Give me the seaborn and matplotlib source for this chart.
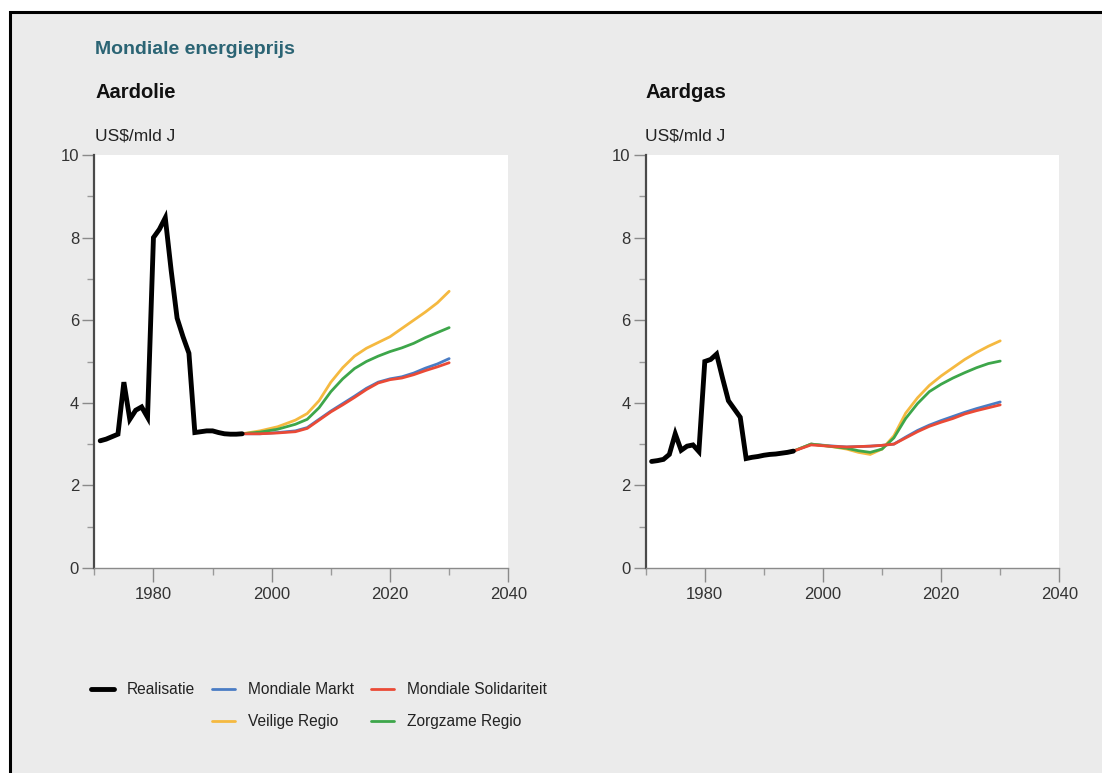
import numpy as np
import pandas as pd
import matplotlib
matplotlib.use('Agg')
import matplotlib.pyplot as plt
from matplotlib.patches import Rectangle
from matplotlib.lines import Line2D
from matplotlib.ticker import MultipleLocator, FixedLocator
import seaborn as sns

# Historische reeks (realisatie)
years_real = [1971, 1972, 1973, 1974, 1975, 1976, 1977, 1978, 1979, 1980,
              1981, 1982, 1983, 1984, 1985, 1986, 1987, 1988, 1989, 1990,
              1991, 1992, 1993, 1994, 1995]
oil_real = [3.08, 3.12, 3.18, 3.24, 4.50, 3.60, 3.82, 3.90, 3.65, 8.00,
            8.20, 8.48, 7.20, 6.05, 5.60, 5.20, 3.28, 3.30, 3.32, 3.32,
            3.28, 3.25, 3.24, 3.24, 3.25]
gas_real = [2.58, 2.60, 2.63, 2.75, 3.25, 2.85, 2.95, 2.98, 2.82, 5.00,
            5.05, 5.18, 4.60, 4.05, 3.85, 3.65, 2.65, 2.68, 2.70, 2.73,
            2.75, 2.76, 2.78, 2.80, 2.83]

# Scenario's
years_scen = [1995, 1998, 2001, 2004, 2006, 2008, 2010, 2012, 2014,
              2016, 2018, 2020, 2022, 2024, 2026, 2028, 2030]
oil_markt = [3.25, 3.25, 3.28, 3.32, 3.40, 3.60, 3.80, 3.98, 4.16,
             4.35, 4.50, 4.58, 4.63, 4.72, 4.84, 4.94, 5.07]
oil_veilig = [3.25, 3.32, 3.42, 3.58, 3.74, 4.05, 4.50, 4.85, 5.13,
              5.32, 5.46, 5.60, 5.80, 6.00, 6.20, 6.42, 6.70]
oil_zorg = [3.25, 3.29, 3.36, 3.48, 3.60, 3.88, 4.27, 4.58, 4.83,
            5.00, 5.13, 5.24, 5.33, 5.44, 5.58, 5.70, 5.82]
oil_solid = [3.25, 3.25, 3.27, 3.30, 3.38, 3.58, 3.78, 3.95, 4.13,
             4.32, 4.48, 4.56, 4.60, 4.68, 4.78, 4.87, 4.97]

gas_markt = [2.83, 3.00, 2.96, 2.93, 2.94, 2.95, 2.97, 3.00, 3.17,
             3.33, 3.46, 3.57, 3.67, 3.77, 3.86, 3.94, 4.02]
gas_veilig = [2.83, 3.00, 2.95, 2.88, 2.80, 2.75, 2.88, 3.20, 3.75,
              4.12, 4.42, 4.65, 4.85, 5.05, 5.22, 5.37, 5.50]
gas_zorg = [2.83, 3.00, 2.95, 2.90, 2.84, 2.80, 2.88, 3.15, 3.62,
            3.98, 4.27, 4.45, 4.60, 4.73, 4.85, 4.95, 5.01]
gas_solid = [2.83, 2.98, 2.95, 2.93, 2.94, 2.95, 2.97, 3.00, 3.15,
             3.30, 3.43, 3.53, 3.62, 3.73, 3.81, 3.88, 3.95]

series_order = ['Mondiale Markt', 'Veilige Regio', 'Zorgzame Regio',
                'Mondiale Solidariteit', 'Realisatie']
colors = {
    'Realisatie': '#000000',
    'Mondiale Markt': '#4a7cc4',
    'Mondiale Solidariteit': '#ea4a36',
    'Veilige Regio': '#f5b940',
    'Zorgzame Regio': '#3da64a',
}
widths = {k: (3.5 if k == 'Realisatie' else 2.0) for k in colors}


def build_frame(real, markt, veilig, zorg, solid):
    parts = [pd.DataFrame({'jaar': years_real, 'prijs': real, 'reeks': 'Realisatie'})]
    for name, vals in [('Mondiale Markt', markt), ('Veilige Regio', veilig),
                       ('Zorgzame Regio', zorg), ('Mondiale Solidariteit', solid)]:
        parts.append(pd.DataFrame({'jaar': years_scen, 'prijs': vals, 'reeks': name}))
    return pd.concat(parts, ignore_index=True)


df_oil = build_frame(oil_real, oil_markt, oil_veilig, oil_zorg, oil_solid)
df_gas = build_frame(gas_real, gas_markt, gas_veilig, gas_zorg, gas_solid)

sns.set_style('ticks')
plt.rcParams['font.family'] = ['Liberation Sans', 'DejaVu Sans']

W, H = 1102, 773
fig = plt.figure(figsize=(W / 100, H / 100), dpi=100)
fig.patch.set_facecolor('white')

# grijze achtergrond met zwarte rand links/boven
bg = Rectangle((10 / W, -0.1), 1.2, 1 - 12.5 / H + 0.1, transform=fig.transFigure,
               facecolor='#ebebeb', edgecolor='black', linewidth=2.2, zorder=-5)
fig.add_artist(bg)

ax1 = fig.add_axes([94.3 / W, 1 - 568 / H, 414 / W, 413 / H])
ax2 = fig.add_axes([645.7 / W, 1 - 568 / H, 413.6 / W, 413 / H])

for ax, df in [(ax1, df_oil), (ax2, df_gas)]:
    ax.set_facecolor('white')
    sns.lineplot(data=df, x='jaar', y='prijs', hue='reeks', size='reeks',
                 hue_order=series_order, size_order=series_order,
                 palette=colors, sizes=widths, legend=False, ax=ax,
                 estimator=None, sort=False)
    ax.set_xlim(1970, 2040)
    ax.set_ylim(0, 10)
    ax.set_xlabel('')
    ax.set_ylabel('')
    ax.xaxis.set_major_locator(FixedLocator([1980, 2000, 2020, 2040]))
    ax.xaxis.set_minor_locator(FixedLocator([1970, 1990, 2010, 2030]))
    ax.yaxis.set_major_locator(MultipleLocator(2))
    ax.yaxis.set_minor_locator(MultipleLocator(1))
    for side in ['top', 'right']:
        ax.spines[side].set_visible(False)
    ax.spines['left'].set_color('#4a4a4a')
    ax.spines['left'].set_linewidth(1.6)
    ax.spines['bottom'].set_color('#8a8a8a')
    ax.spines['bottom'].set_linewidth(1.0)
    ax.tick_params(axis='y', which='major', length=9, width=1.0, color='#8a8a8a',
                   labelsize=12, labelcolor='#333333', pad=2)
    ax.tick_params(axis='y', which='minor', length=5, width=1.0, color='#9a9a9a')
    ax.tick_params(axis='x', which='major', length=10, width=1.0, color='#8a8a8a',
                   labelsize=12, labelcolor='#333333', pad=4)
    ax.tick_params(axis='x', which='minor', length=5, width=1.0, color='#9a9a9a')
    for line in ax.get_lines():
        line.set_solid_joinstyle('miter')

# teksten
fig.text(95 / W, 1 - 50 / H, 'Mondiale energieprijs', fontsize=14, fontweight='bold',
         color='#2b6474', va='center', ha='left')
fig.text(95 / W, 1 - 93 / H, 'Aardolie', fontsize=14.5, fontweight='bold',
         color='#111111', va='center', ha='left')
fig.text(645 / W, 1 - 93 / H, 'Aardgas', fontsize=14.5, fontweight='bold',
         color='#111111', va='center', ha='left')
fig.text(95 / W, 1 - 136 / H, 'US$/mld J', fontsize=12.5, color='#222222',
         va='center', ha='left')
fig.text(645 / W, 1 - 136 / H, 'US$/mld J', fontsize=12.5, color='#222222',
         va='center', ha='left')

# legenda
handles = [
    Line2D([], [], color=colors['Realisatie'], lw=3.5),
    Line2D([], [], color='none', lw=0),
    Line2D([], [], color=colors['Mondiale Markt'], lw=2.0),
    Line2D([], [], color=colors['Veilige Regio'], lw=2.0),
    Line2D([], [], color=colors['Mondiale Solidariteit'], lw=2.0),
    Line2D([], [], color=colors['Zorgzame Regio'], lw=2.0),
]
labels = ['Realisatie', '', 'Mondiale Markt', 'Veilige Regio',
          'Mondiale Solidariteit', 'Zorgzame Regio']
leg = fig.legend(handles, labels, ncol=3, loc='upper left',
                 bbox_to_anchor=(91 / W, 1 - 682 / H), frameon=False,
                 fontsize=11.2, handlelength=1.5, handletextpad=0.8,
                 columnspacing=1.1, labelspacing=1.1, borderpad=0,
                 borderaxespad=0)
for t in leg.get_texts():
    t.set_color('#222222')

fig.savefig('out.png', dpi=100)
